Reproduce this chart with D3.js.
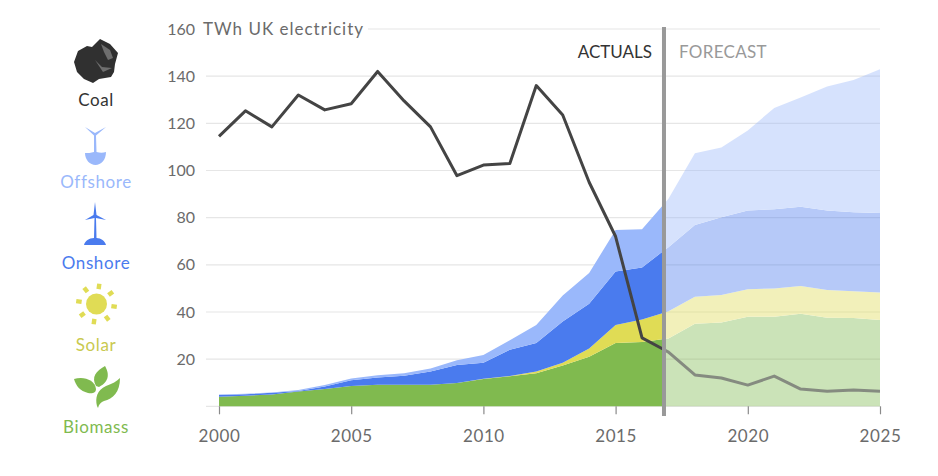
<!DOCTYPE html>
<html lang="en">

<head>
    <meta charset="UTF-8">
    <title>UK electricity</title>
    <style>
        body {
            margin: 0;
            background: #fff;
            overflow: hidden;
        }

        text {
            font-family: Lato, "Open Sans", sans-serif;
            letter-spacing: 0.6px;
        }
    </style>
</head>

<body>
    <svg id="graph"></svg>
    <script src="https://d3js.org/d3.v7.min.js"></script>
    <script>
        const years = d3.range(2000, 2026);
        const biomass = [4.1, 4.5, 5, 6.3, 7.3, 8.6, 9.1, 9.1, 9.1, 9.9, 11.6, 12.7, 14, 17.3, 21, 26.8, 27.3, 28.8, 35, 35.5, 38, 38, 39.3, 37.6, 37.4, 36.6];
        const solar = [0, 0, 0, 0, 0, 0, 0, 0, 0, 0, 0.1, 0.1, 0.8, 1.2, 3.5, 7.7, 9.5, 11.5, 11.5, 11.7, 11.6, 12, 11.7, 11.7, 11.4, 11.7];
        const onshore = [0.7, 0.6, 0.7, 0.2, 1.1, 2.5, 3.1, 3.9, 5.7, 7.6, 6.8, 11.2, 12, 17.5, 19, 22.7, 22.1, 27.2, 30.4, 33, 33.4, 33.6, 33.6, 33.7, 33.5, 33.7];
        const offshore = [0.2, 0.2, 0.2, 0.4, 0.6, 0.7, 1, 1, 1.2, 2, 3.3, 4, 7.7, 11, 13, 17.6, 16.2, 20.5, 30.4, 29.5, 34, 42.9, 46.4, 52.6, 56.1, 60.9];
        const coal = [114.5, 125.3, 118.5, 132, 125.7, 128.3, 142, 129.5, 118.5, 97.8, 102.3, 103, 136, 123.5, 95, 72, 29, 23, 13.3, 12, 9, 12.8, 7.3, 6.4, 6.9, 6.4];

        const keys = ["biomass", "solar", "onshore", "offshore"];
        const colors = {
            biomass: "#80ba4f",
            solar: "#e0dc55",
            onshore: "#4a7bee",
            offshore: "#9ab8fb"
        };
        const yTicks = [20, 40, 60, 80, 100, 120, 140, 160];
        const xTicks = [2000, 2005, 2010, 2015, 2020, 2025];
        const splitYear = 2016.83;

        const w = 938, h = 476;
        const svg = d3.select("#graph").attr("width", w).attr("height", h).style("display", "block");
        const x = d3.scaleLinear().domain([2000, 2025]).range([219, 880]);
        const y = d3.scaleLinear().domain([0, 160]).range([406.3, 29]);
        const splitX = x(splitYear);

        const rows = years.map((yr, i) => ({
            year: yr,
            biomass: biomass[i],
            solar: solar[i],
            onshore: onshore[i],
            offshore: offshore[i]
        }));
        const stacked = d3.stack().keys(keys)(rows);

        const defs = svg.append("defs");
        defs.append("clipPath").attr("id", "actual").append("rect")
            .attr("x", 0).attr("y", 0).attr("width", splitX).attr("height", h);
        defs.append("clipPath").attr("id", "forecast").append("rect")
            .attr("x", splitX).attr("y", 0).attr("width", w - splitX).attr("height", h);

        // grid
        svg.append("g").selectAll("line")
            .data([0].concat(yTicks))
            .enter().append("line")
            .attr("x1", d => d == 160 ? 368 : 206)
            .attr("x2", x(2025))
            .attr("y1", d => y(d))
            .attr("y2", d => y(d))
            .attr("stroke", "#e6e6e6")
            .attr("stroke-width", 1.2);

        const area = d3.area()
            .x(d => x(d.data.year))
            .y0(d => y(d[0]))
            .y1(d => y(d[1]));

        // forecast is the same stack, washed out so the grid shows through
        svg.append("g")
            .attr("clip-path", "url(#forecast)")
            .attr("opacity", 0.4)
            .selectAll("path")
            .data(stacked)
            .enter().append("path")
            .attr("d", area)
            .attr("fill", d => colors[d.key]);

        svg.append("g")
            .attr("clip-path", "url(#actual)")
            .selectAll("path")
            .data(stacked)
            .enter().append("path")
            .attr("d", area)
            .attr("fill", d => colors[d.key]);

        const coalLine = d3.line()
            .x((d, i) => x(years[i]))
            .y(d => y(d));

        svg.append("path").datum(coal)
            .attr("clip-path", "url(#actual)")
            .attr("d", coalLine)
            .attr("fill", "none")
            .attr("stroke", "#444444")
            .attr("stroke-width", 3)
            .attr("stroke-linejoin", "round");
        svg.append("path").datum(coal)
            .attr("clip-path", "url(#forecast)")
            .attr("d", coalLine)
            .attr("fill", "none")
            .attr("stroke", "#858b80")
            .attr("stroke-width", 3)
            .attr("stroke-linejoin", "round");

        // axes
        const xAxis = svg.append("g")
            .attr("transform", "translate(0," + y(0) + ")")
            .call(d3.axisBottom(x).tickValues(xTicks).tickFormat(d3.format("d")).tickSize(8).tickPadding(16));
        xAxis.select(".domain").remove();
        xAxis.selectAll("line").attr("stroke", "#8a8a8a").attr("stroke-width", 1.2);
        xAxis.selectAll("text").attr("font-size", 17).attr("fill", "#6b6b6b")
            .style("font-family", "Lato, sans-serif")
            .style("letter-spacing", "0.6px");

        const yAxis = svg.append("g")
            .attr("transform", "translate(195,0)")
            .call(d3.axisLeft(y).tickValues(yTicks).tickSize(0).tickPadding(0));
        yAxis.select(".domain").remove();
        yAxis.selectAll("text").attr("font-size", 16).attr("fill", "#6b6b6b")
            .style("font-family", "Lato, sans-serif")
            .style("letter-spacing", "0");

        svg.append("text")
            .attr("x", 203).attr("y", y(160) + 5.5)
            .attr("font-size", 17).attr("fill", "#6b6b6b")
            .style("letter-spacing", "1px")
            .text("TWh UK electricity");

        // actuals / forecast split
        svg.append("line")
            .attr("x1", splitX).attr("x2", splitX)
            .attr("y1", 27).attr("y2", 416)
            .attr("stroke", "#999999")
            .attr("stroke-width", 4);
        svg.append("text")
            .attr("x", splitX - 12).attr("y", 58)
            .attr("text-anchor", "end")
            .attr("font-size", 17).attr("fill", "#333333")
            .style("letter-spacing", "0")
            .text("ACTUALS");
        svg.append("text")
            .attr("x", splitX + 15).attr("y", 58)
            .attr("font-size", 17).attr("fill", "#999999")
            .style("letter-spacing", "0.3px")
            .text("FORECAST");

        // legend labels
        const legendNames = ["Coal", "Offshore", "Onshore", "Solar", "Biomass"];
        const legendColors = ["#333333", "#9ab8fb", "#4a7bee", "#c9c94f", "#80ba4f"];
        const legendY = [105.500, 187.500, 268.500, 350.500, 432.500];
        svg.append("g").selectAll("text")
            .data(legendNames)
            .enter().append("text")
            .attr("x", 96)
            .attr("y", (d, i) => legendY[i])
            .attr("text-anchor", "middle")
            .attr("font-size", 17)
            .attr("fill", (d, i) => legendColors[i])
            .text(d => d);

        // icons
        const icons = svg.append("g");

        icons.append("path")
            .attr("d", "M100 39 L110 44 L118 53 L115 64 L114 72 L111 77 L99 79 L93 83 L84 79 L77 72 L74 62 L78 51 L87 46 L92 47 Z")
            .attr("fill", "#303030");
        icons.append("path")
            .attr("d", "M101 44 L110 50 L113 58 L108 60 L104 52 Z")
            .attr("fill", "#6e6e6e");
        icons.append("path")
            .attr("d", "M95 60 L103 72 L112 68 L102 67 Z")
            .attr("fill", "#6e6e6e");

        // offshore turbine
        icons.append("path")
            .attr("d", "M85 127 L95 133 L106 127 L96 135.5 L96.5 152 C100 153 103 153 106 152 C106 160 101 165 95.500 165 C90 165 85 160 85 153 C88 153 91 153 94 152 L94 135.500 Z")
            .attr("fill", "#9ab8fb");

        // onshore turbine
        icons.append("path")
            .attr("d", "M95 202 L96.500 215 L106 220 L96 218 L96.500 238 C101 238 105 241 106 245 L84 245 C85 241 89 238 94 238 L94.500 218 L85 220 L93.500 215 Z")
            .attr("fill", "#4a7bee");

        // sun
        const sun = icons.append("g").attr("transform", "translate(96.500,304)");
        sun.append("circle").attr("r", 10.500).attr("fill", "#e0dc55");
        sun.selectAll("rect")
            .data(d3.range(8))
            .enter().append("rect")
            .attr("x", -2.200).attr("y", -20.500)
            .attr("width", 4.400).attr("height", 5.500)
            .attr("fill", "#e0dc55")
            .attr("transform", d => "rotate(" + (d * 45 + 8) + ")");

        // leaves
        icons.append("path")
            .attr("d", "M96 386 C91 377 96 371 105 366 C109 373 110 381 99 387 Z")
            .attr("fill", "#80ba4f");
        icons.append("path")
            .attr("d", "M74 379 C84 376 95 380 96 389 C96 393 92 394 88 393 C80 391 76 386 74 379 Z")
            .attr("fill", "#80ba4f");
        icons.append("path")
            .attr("d", "M120 378 C120 392 113 399 104 401 C101 402 99 404 98 408 L97 406 C95 398 97 390 106 386 C112 384 117 381 120 378 Z")
            .attr("fill", "#80ba4f");
    </script>
</body>

</html>
